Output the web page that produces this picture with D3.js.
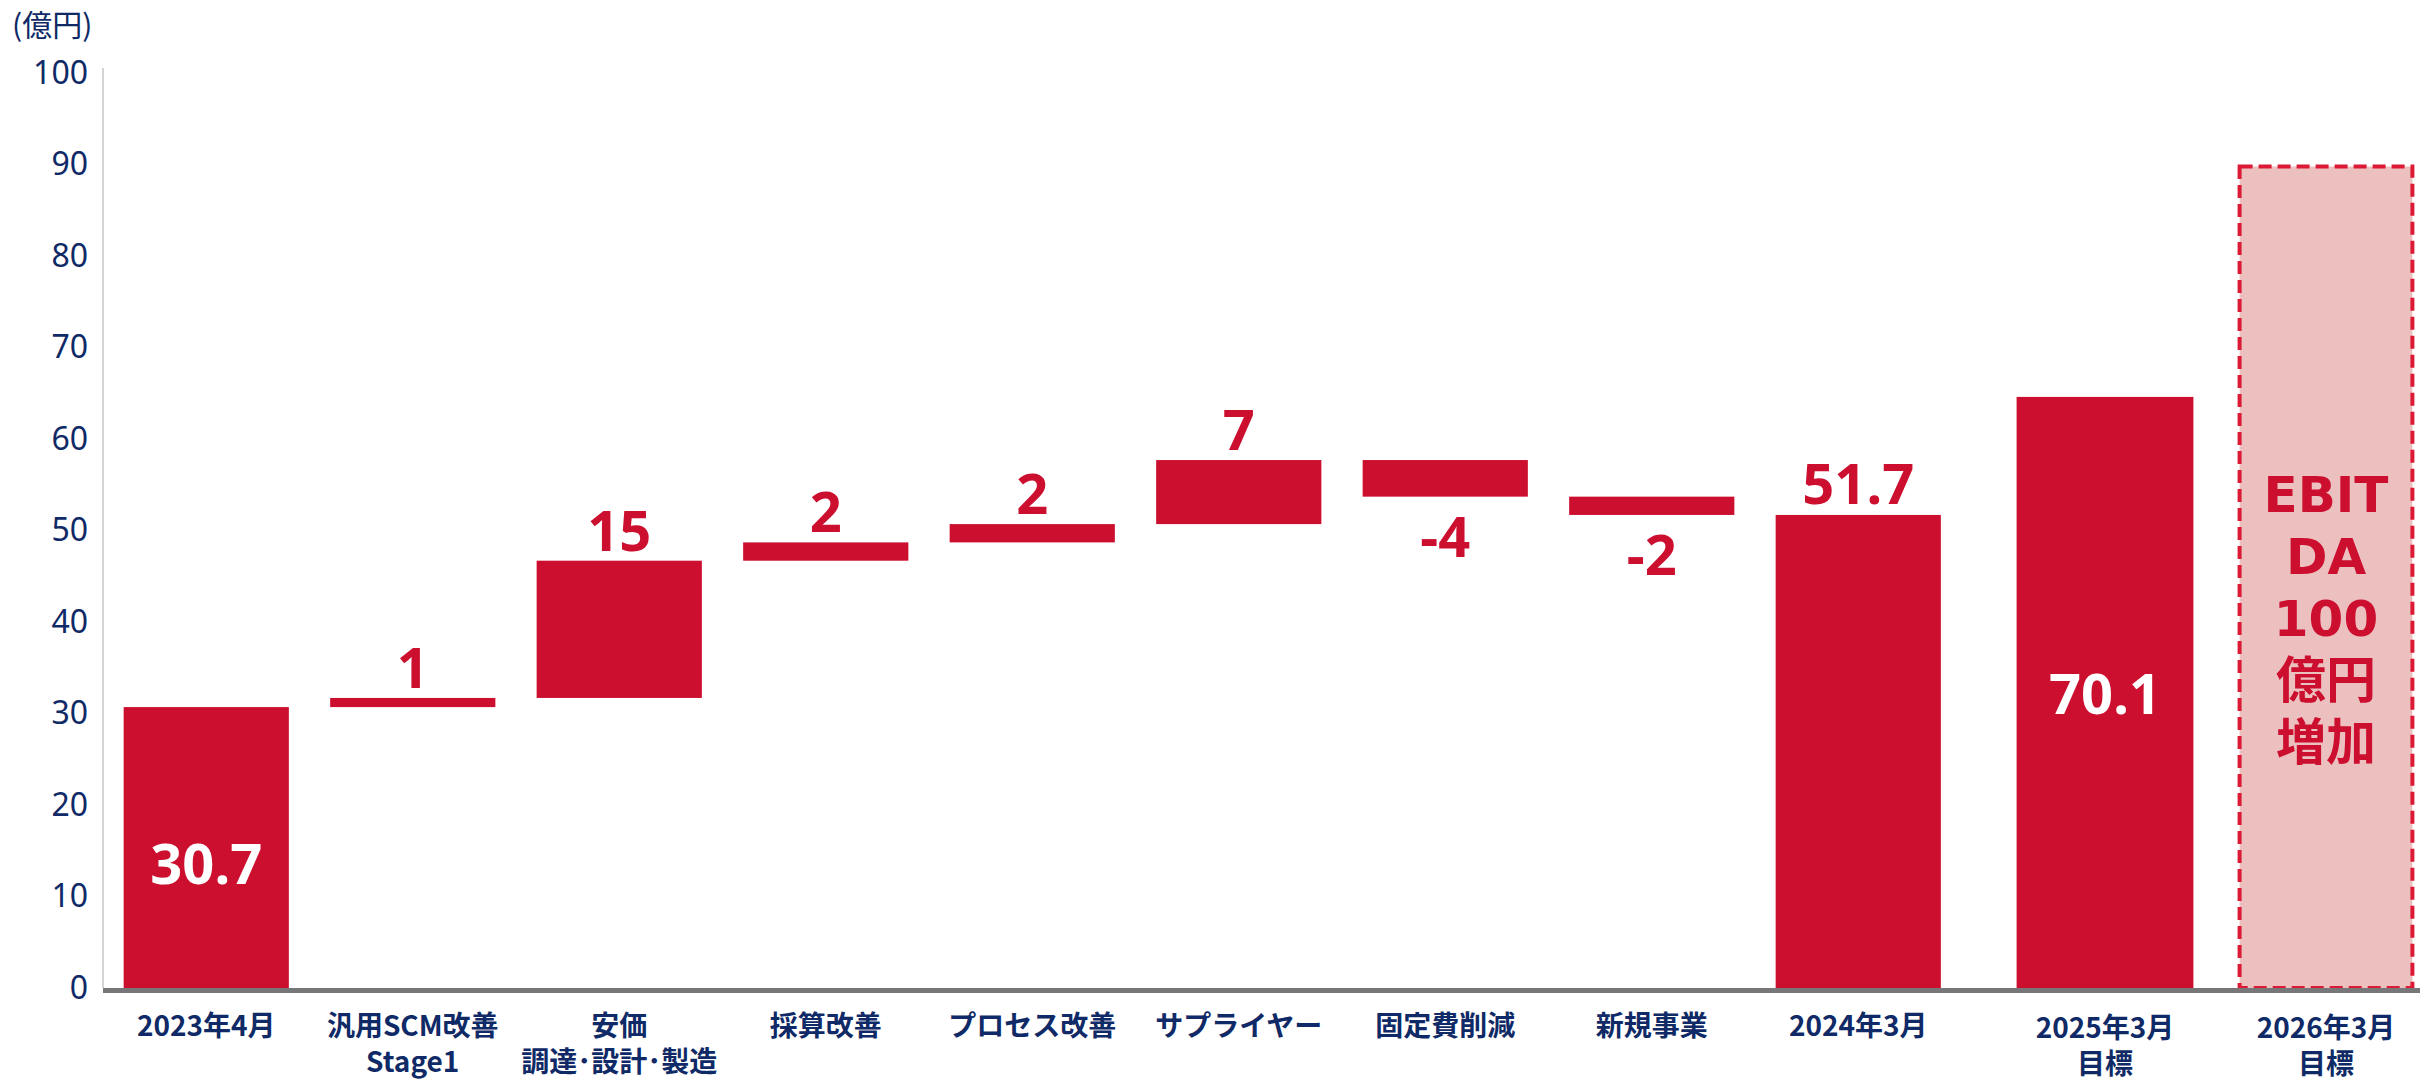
<!DOCTYPE html>
<html lang="ja">
<head>
<meta charset="utf-8">
<title>EBITDA bridge</title>
<script src="https://cdn.jsdelivr.net/npm/d3@7"></script>
<style>
  html, body { margin: 0; padding: 0; background: #fff; }
  svg { display: block; }
  .tick text { font-family: "Noto Sans", sans-serif; }
</style>
</head>
<body>
<svg id="chart" width="2420" height="1081"></svg>
<script>
// bridge steps (first 9 columns)
const stepNames = ["2023年4月", "汎用SCM改善\nStage1", "安価\n調達･設計･製造", "採算改善",
  "プロセス改善", "サプライヤー", "固定費削減", "新規事業", "2024年3月"];
const stepValues = [30.7, 1, 15, 2, 2, 7, -4, -2, 51.7];
const stepKinds = ["total", "delta", "delta", "delta", "delta", "delta", "delta", "delta", "total"];

// target columns
const targetNames = ["2025年3月\n目標", "2026年3月\n目標"];
const targetValues = [64.6, 90];
const targetLabels = ["70.1", "EBIT\nDA\n100\n億円\n増加"];

const yTicks = [0, 10, 20, 30, 40, 50, 60, 70, 80, 90, 100];

const red = "#cc0f2f";
const navy = "#0f2a66";

const svg = d3.select("#chart");

const y = d3.scaleLinear().domain([0, 100]).range([988, 73]);
const xStep = d3.scaleBand().domain(stepNames).range([103, 103 + 9 * 206.5])
  .paddingInner(0.2).paddingOuter(0.1);
const xTarget = d3.scaleBand().domain(targetNames).range([1994.5, 2436.5])
  .paddingInner(0.2).paddingOuter(0.1);

// y axis
const yAxis = svg.append("g")
  .attr("transform", "translate(103,0)")
  .call(d3.axisLeft(y).tickValues(yTicks).tickSize(0).tickPadding(15));
yAxis.select(".domain").attr("stroke", "#d4d4d4").attr("stroke-width", 2)
  .attr("d", "M0," + (y(100) - 5) + "V" + y(0));
yAxis.selectAll(".tick text").attr("fill", navy).style("font-size", "32px");

svg.append("text")
  .attr("x", 12).attr("y", 36)
  .attr("fill", navy)
  .style("font-family", "'Noto Sans CJK JP', sans-serif")
  .style("font-size", "30px")
  .text("(億円)");

// waterfall bars
let running = 0;
const steps = stepNames.map((name, i) => {
  let lo, hi;
  if (stepKinds[i] === "total") {
    lo = 0; hi = stepValues[i]; running = stepValues[i];
  } else {
    const next = running + stepValues[i];
    lo = Math.min(running, next); hi = Math.max(running, next); running = next;
  }
  return { name, value: stepValues[i], kind: stepKinds[i], lo, hi };
});

svg.append("g").selectAll("rect")
  .data(steps).enter().append("rect")
  .attr("x", d => xStep(d.name))
  .attr("width", xStep.bandwidth())
  .attr("y", d => y(d.hi))
  .attr("height", d => y(d.lo) - y(d.hi))
  .attr("fill", red);

// delta labels
svg.append("g").selectAll("text")
  .data(steps.filter(d => d.kind === "delta")).enter().append("text")
  .attr("x", d => xStep(d.name) + xStep.bandwidth() / 2)
  .attr("y", d => d.value >= 0 ? y(d.hi) - 10 : y(d.lo) + 60)
  .attr("text-anchor", "middle")
  .attr("fill", red)
  .style("font-family", "'Noto Sans', sans-serif")
  .style("font-weight", "bold")
  .style("font-size", "56px")
  .text(d => d.value);

// totals: first inside, last above
const first = steps[0], last = steps[8];
svg.append("text")
  .attr("x", xStep(first.name) + xStep.bandwidth() / 2)
  .attr("y", (y(first.hi) + y(0)) / 2 + 36)
  .attr("text-anchor", "middle")
  .attr("fill", "#fff")
  .style("font-family", "'Noto Sans', sans-serif")
  .style("font-weight", "bold")
  .style("font-size", "56px")
  .text(first.value);
svg.append("text")
  .attr("x", xStep(last.name) + xStep.bandwidth() / 2)
  .attr("y", y(last.hi) - 11)
  .attr("text-anchor", "middle")
  .attr("fill", red)
  .style("font-family", "'Noto Sans', sans-serif")
  .style("font-weight", "bold")
  .style("font-size", "56px")
  .text(last.value);

// target bars
svg.append("rect")
  .attr("x", xTarget(targetNames[0]))
  .attr("width", xTarget.bandwidth())
  .attr("y", y(targetValues[0]))
  .attr("height", y(0) - y(targetValues[0]) + 2)
  .attr("fill", red);
svg.append("text")
  .attr("x", xTarget(targetNames[0]) + xTarget.bandwidth() / 2)
  .attr("y", (y(targetValues[0]) + y(0)) / 2 + 22)
  .attr("text-anchor", "middle")
  .attr("fill", "#fff")
  .style("font-family", "'Noto Sans', sans-serif")
  .style("font-weight", "bold")
  .style("font-size", "56px")
  .text(targetLabels[0]);

const bw = xTarget.bandwidth();
svg.append("rect")
  .attr("x", xTarget(targetNames[1]) + 2)
  .attr("width", bw - 4)
  .attr("y", y(targetValues[1]) + 2)
  .attr("height", y(0) - y(targetValues[1]) - 2)
  .attr("fill", "#edc0c0")
  .attr("stroke", "#dc1a35")
  .attr("stroke-width", 4)
  .attr("stroke-dasharray", "13,6");

const ebLines = targetLabels[1].split("\n");
svg.append("g").selectAll("text")
  .data(ebLines).enter().append("text")
  .attr("x", xTarget(targetNames[1]) + bw / 2)
  .attr("y", (d, i) => 512 + i * 62)
  .attr("text-anchor", "middle")
  .attr("fill", red)
  .style("font-family", "'DejaVu Sans', 'Noto Sans CJK JP', sans-serif")
  .style("font-weight", "bold")
  .style("font-size", "50px")
  .text(d => d);

// baseline
svg.append("line")
  .attr("x1", 103).attr("x2", 2420)
  .attr("y1", y(0) + 2.5).attr("y2", y(0) + 2.5)
  .attr("stroke", "#777779").attr("stroke-width", 5);

// category labels
function drawCat(name, cx, y0) {
  const t = svg.append("text")
    .attr("text-anchor", "middle")
    .attr("fill", navy)
    .style("font-family", "'Noto Sans CJK JP', sans-serif")
    .style("font-weight", "bold")
    .style("font-size", "28px");
  name.split("\n").forEach((line, i) => {
    t.append("tspan").attr("x", cx).attr("y", y0 + i * 36).text(line);
  });
}
stepNames.forEach(n => drawCat(n, xStep(n) + xStep.bandwidth() / 2, 1036));
targetNames.forEach(n => drawCat(n, xTarget(n) + xTarget.bandwidth() / 2, 1038));
</script>
</body>
</html>
